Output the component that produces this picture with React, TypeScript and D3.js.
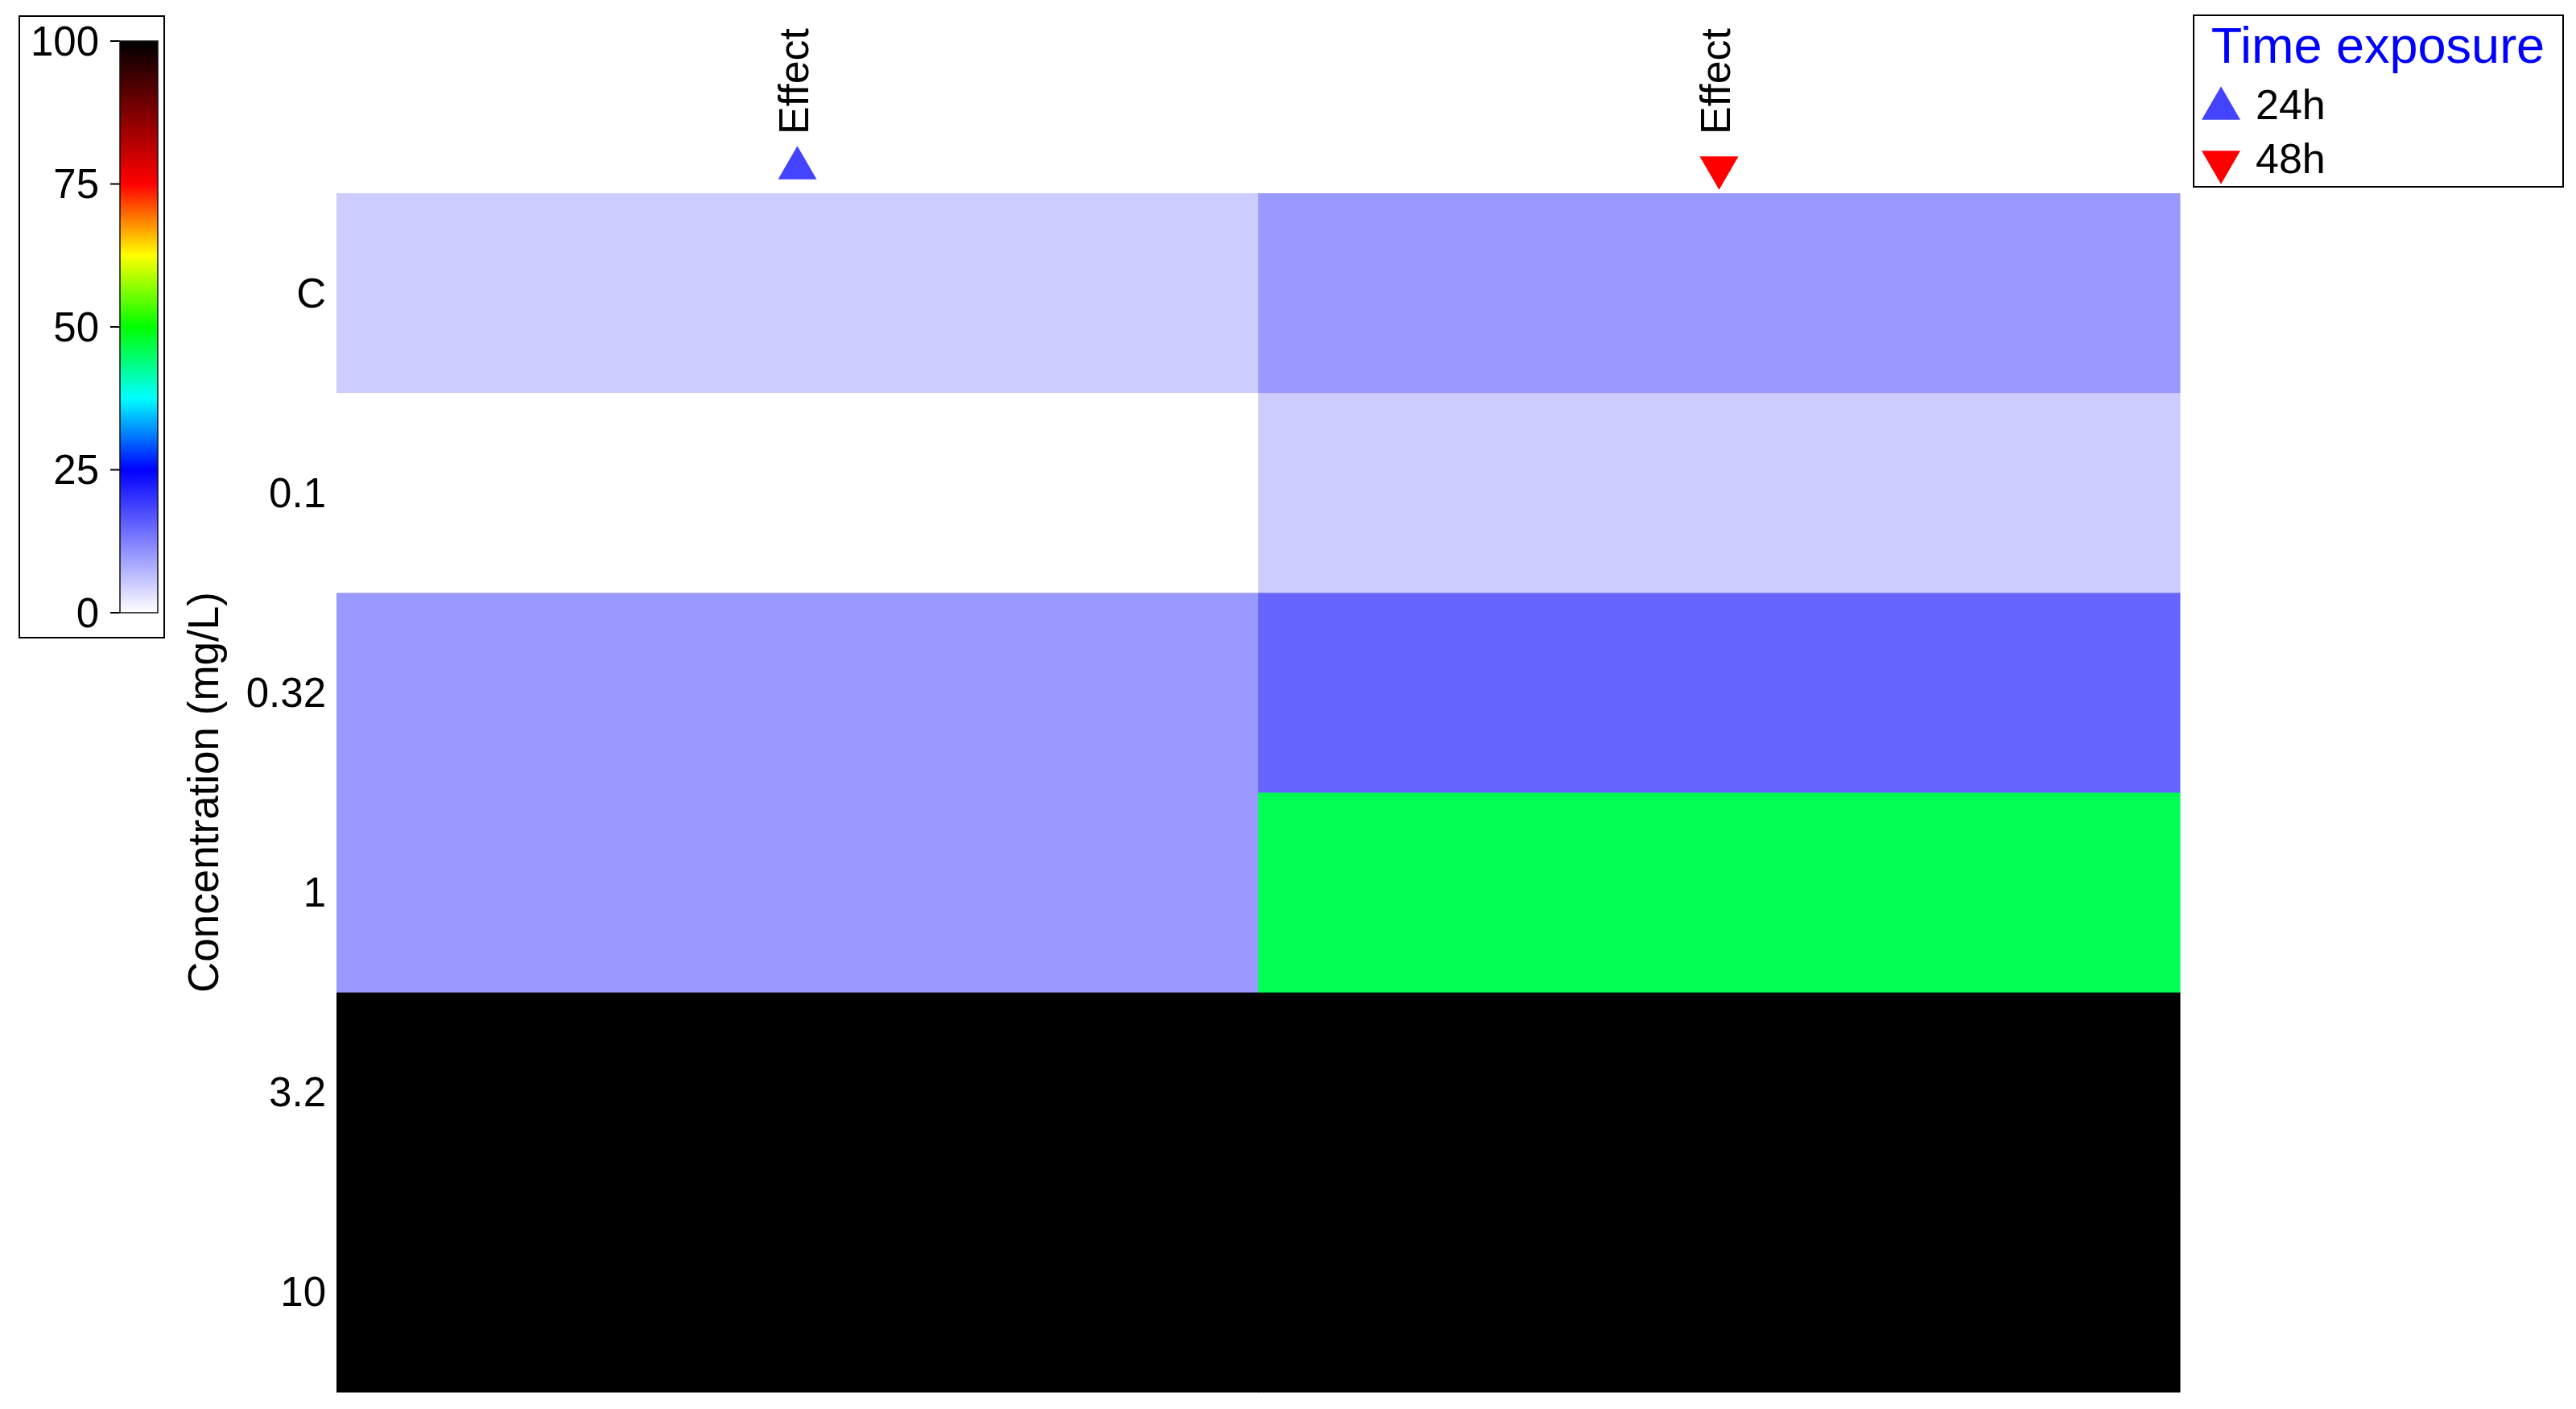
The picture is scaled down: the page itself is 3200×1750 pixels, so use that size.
import React from 'react';
import * as d3 from 'd3';

const concentrations = ['C', '0.1', '0.32', '1', '3.2', '10'];
const exposures = ['24h', '48h'];
const effect24h = [5, 0, 10, 10, 100, 100];
const effect48h = [10, 5, 15, 46, 100, 100];
const colorStops = [0, 25, 37.5, 50, 62.5, 75, 100];
const colorRange = ['#ffffff', '#0000ff', '#00ffff', '#00ff00', '#ffff00', '#ff0000', '#000000'];
const barTicks = [0, 25, 50, 75, 100];

const FONT = '"Liberation Sans", Arial, sans-serif';

const App = () => {
  const width = 3200;
  const height = 1750;

  const x = d3.scaleBand<string>().domain(exposures).range([418, 2708]);
  const y = d3.scaleBand<string>().domain(concentrations).range([240, 1729]);
  const color = d3.scaleLinear<string>().domain(colorStops).range(colorRange).clamp(true);
  const barY = d3.scaleLinear().domain([0, 100]).range([761, 51]);

  const series = [effect24h, effect48h];
  const markerColor = ['#4444ff', '#ff0000'];

  const cells = exposures.flatMap((ex, i) =>
    concentrations.map((c, j) => ({ ex, c, v: series[i][j] }))
  );

  const tri = d3.symbol().type(d3.symbolTriangle).size(1000);

  return (
    <svg width={width} height={height} style={{ position: 'absolute', left: 0, top: 0 }} fontFamily={FONT}>
      <defs>
        <linearGradient id="cbar" x1="0" y1="1" x2="0" y2="0">
          {colorStops.map((s, i) => (
            <stop key={i} offset={`${s}%`} stopColor={colorRange[i]} />
          ))}
        </linearGradient>
      </defs>

      {/* heatmap cells */}
      {cells.map((d) => (
        <rect
          key={d.ex + d.c}
          x={x(d.ex)}
          y={y(d.c)}
          width={x.bandwidth() + 0.5}
          height={y.bandwidth() + 0.5}
          fill={color(d.v)}
        />
      ))}

      {/* row labels */}
      {concentrations.map((c) => (
        <text key={c} x={405} y={y(c)! + y.bandwidth() / 2} textAnchor="end" dominantBaseline="central" fontSize={51}>
          {c}
        </text>
      ))}
      <text transform="translate(271,984) rotate(-90)" textAnchor="middle" fontSize={53}>
        Concentration (mg/L)
      </text>

      {/* column headers */}
      {exposures.map((ex, i) => {
        const cx = x(ex)! + x.bandwidth() / 2;
        return (
          <g key={ex}>
            <text transform={`translate(${cx + 13},167) rotate(-90)`} fontSize={52}>Effect</text>
            <path
              d={tri()!}
              transform={i === 0 ? `translate(${cx},209)` : `translate(${cx},208) rotate(180)`}
              fill={markerColor[i]}
            />
          </g>
        );
      })}

      {/* color bar */}
      <rect x={24} y={20} width={180} height={772} fill="#fff" stroke="#000" strokeWidth={2} />
      <rect x={149} y={51} width={47} height={710} fill="url(#cbar)" stroke="#111" strokeWidth={1.5} />
      {barTicks.map((t) => (
        <g key={t}>
          <line x1={137} x2={149} y1={barY(t)} y2={barY(t)} stroke="#000" strokeWidth={2} />
          <text x={123} y={barY(t)} textAnchor="end" dominantBaseline="central" fontSize={51}>
            {t}
          </text>
        </g>
      ))}

      {/* time exposure legend */}
      <rect x={2725} y={19} width={459} height={213} fill="#fff" stroke="#000" strokeWidth={2} />
      <text x={2954} y={78} textAnchor="middle" fontSize={63} fill="#0000ff">Time exposure</text>
      {exposures.map((ex, i) => (
        <g key={ex}>
          <path
            d={tri()!}
            transform={i === 0 ? `translate(2759,135)` : `translate(2759,201) rotate(180)`}
            fill={markerColor[i]}
          />
          <text x={2802} y={148 + i * 67} fontSize={52}>{ex}</text>
        </g>
      ))}
    </svg>
  );
};

export default App;
